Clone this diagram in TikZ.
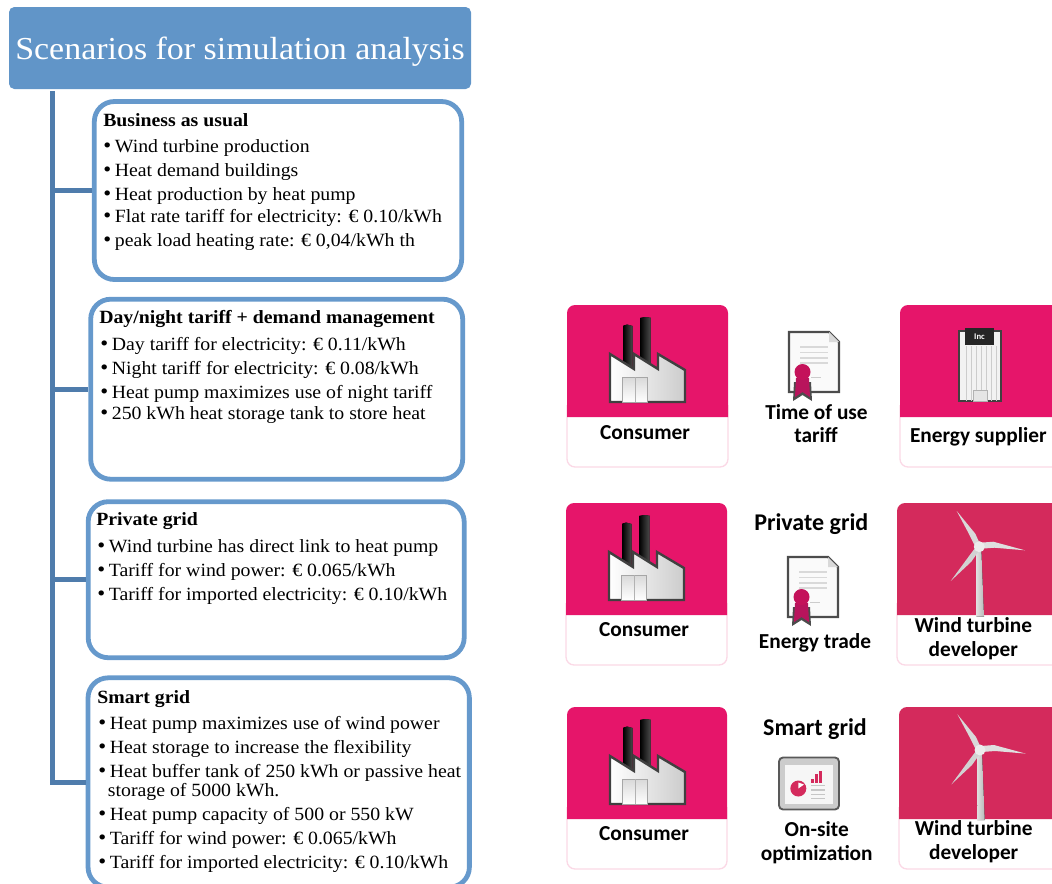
\documentclass[tikz,border=0pt]{standalone}
\usepackage{fontspec}
\setmainfont[FakeStretch=1.06]{Liberation Serif}
\newfontfamily\labelfont{Carlito}
\usetikzlibrary{positioning}
\usetikzlibrary{calc}

\definecolor{titleblue}{HTML}{6195C8}
\definecolor{boxblue}{HTML}{6699CC}
\definecolor{trunkblue}{HTML}{4F7CAC}
\definecolor{cardpink}{HTML}{E6156A}
\definecolor{windpink}{HTML}{D42A5C}
\definecolor{cardedge}{HTML}{FBD9E6}
\definecolor{seal}{HTML}{B8145C}

\newcommand{\bul}{\makebox[8.7pt][l]{\raisebox{-.4pt}{\fontsize{16}{16}\selectfont\textbullet}}}

\tikzset{
  pics/cardbox/.style 2 args={code={
      \draw[cardedge,line width=1pt,fill=white,rounded corners=6pt]
        (0,100) -- (0,162) -- (#1,162) -- (#1,100);
      \fill[#2,rounded corners=6pt] (0,112) [sharp corners] -- (0,112) [rounded corners=6pt] -- (0,0) -- (#1,0) [sharp corners] -- (#1,112) -- cycle;
  }},
  pics/factory/.style={code={
      \fill[left color=black,right color=gray!60!black] (56.3,20.7) -- (60,19.5) -- (65.7,21) -- (65.7,62) -- (56.3,56) -- cycle;
      \fill[left color=black,right color=gray!60!black] (73,13) -- (78,12) -- (83.7,12.7) -- (83.7,62) -- (73,58) -- cycle;
      \draw[black!75,line width=1.8pt,left color=white,right color=gray!40]
        (43,49) -- (67,64) -- (67,49) -- (91,64) -- (91,49) -- (118,65) -- (118,97) -- (43,97) -- cycle;
      \draw[gray!70,line width=.5pt,top color=gray!30,bottom color=white] (55.7,72) rectangle (80.3,97);
      \draw[gray!60,line width=.5pt] (68,72) -- (68,97);
  }},
  pics/certificate/.style={code={
      \draw[black!70,line width=1.8pt,fill=white!96!gray] (0,0) -- (40,0) -- (50,10) -- (50,60) -- (0,60) -- cycle;
      \fill[gray!30] (40,0) -- (50,10) -- (40,10) -- cycle;
      \foreach \ly in {15,20.5,26,31}
        \draw[gray!30,line width=1pt] (11,\ly) -- (39,\ly);
      \draw[gray!40,line width=.6pt] (22,45) -- (32,45);
      \fill[black!70] (5,50) -- (4,69) -- (13.5,63) -- (23,69) -- (22,50) -- cycle;
      \fill[seal] (7,46) -- (6,65) -- (13.5,60) -- (21,65) -- (20,46) -- cycle;
      \fill[cardpink!85!black] (13.5,40) circle (8);
  }},
  pics/supplier/.style={code={
      \draw[black!75,line width=1.8pt,fill=gray!10] (0,3) rectangle (42,73);
      \foreach \lx in {7,12,17,22,27,32,37}
        \draw[gray!40,line width=.7pt] (\lx,18) -- (\lx,73);
      \fill[black!85] (6,0) rectangle (35,17);
      \node[text=white,font=\labelfont\bfseries\fontsize{6.5}{6.5}\selectfont] (inc) at (20.5,9) {Inc};
      \draw[gray!60,fill=gray!20,line width=.6pt] (14,62) rectangle (28,73);
  }},
  pics/turbine/.style={code={
      \fill[left color=gray!25,right color=gray!55] (-3,3) -- (2,3) -- (4.7,70) -- (-2.7,70) -- cycle;
      \fill[gray!30] (-22.6,-35.7) -- (-4,-13) -- (1,-2) -- (-4,0) -- (-11,-14) -- cycle;
      \fill[gray!25] (45.7,3.6) -- (14,-5) -- (1,-4) -- (2,2) -- (15,1) -- cycle;
      \fill[gray!35] (-28.6,34.3) -- (-8,15) -- (-1,5) -- (-4,1) -- (-10,9) -- cycle;
      \fill[gray!15] (0,0) circle (5.5);
  }},
  pics/chartpanel/.style={code={
      \draw[black!65,line width=1.4pt,fill=gray!40,rounded corners=3pt] (0,0) rectangle (60,52);
      \fill[white!93!gray] (6,7) rectangle (54,46);
      \fill[windpink] (19.3,31) circle (8);
      \fill[white] (19.3,31) -- (19.3,25) -- (25,27) -- cycle;
      \foreach \bx/\bh in {32/4,36/9,40/12}
        \fill[windpink] (\bx,25) rectangle ++(3,-\bh);
      \foreach \ly in {28,32.5,37,41}
        \draw[gray!45,line width=.8pt] (32,\ly) -- (46,\ly);
  }}
}

\begin{document}
\begin{tikzpicture}[x=.75pt,y=-.75pt,
    scenbox/.style={
      draw=boxblue,
      line width=3.6pt,
      rounded corners=15pt,
      inner sep=0pt,
      fill=white},
    titlebox/.style={
      fill=titleblue,
      rounded corners=4pt,
      inner sep=0pt,
      text=white,
      minimum width=346.5pt,
      minimum height=61.5pt,
      font=\fontsize{24}{24}\selectfont},
    boxline/.style={
      anchor=base west,
      inner sep=0pt,
      font=\fontsize{14}{14}\selectfont},
    cardlabel/.style={
      anchor=base,
      inner sep=0pt,
      font=\labelfont\bfseries\fontsize{16}{16}\selectfont},
    cardhead/.style={
      cardlabel,
      font=\labelfont\bfseries\fontsize{18}{18}\selectfont},
    trunkline/.style={
      draw=trunkblue,
      line width=4pt}
  ]
  \useasboundingbox (0,0) rectangle (1052,883);

  \node[titlebox,text depth=0pt] (title) at (240,48) {Scenarios for simulation analysis};

  \node[scenbox,minimum width=275.5pt,minimum height=133.5pt] (usual) at (278,190.5) {};
  \node[scenbox,minimum width=279pt,minimum height=135pt] (daynight) at (276.7,389.2) {};
  \node[scenbox,minimum width=282pt,minimum height=117pt] (private) at (276.2,579.7) {};
  \node[scenbox,minimum width=286pt,minimum height=157pt] (smart) at (278.7,782.5) {};

  \coordinate (trunktop) at (52.8,91);
  \foreach \i in {usual,daynight,private,smart}
    \draw[trunkline] (trunktop) |- (\i.west);

  \foreach \nm/\x/\y/\txt in {% name/x/baseline/text
    ua/103/126/{\bfseries Business as usual},
    ub/103/152/{\bul Wind turbine production},
    uc/103/176/{\bul Heat demand buildings},
    ud/103/200/{\bul Heat production by heat pump},
    ue/103/222/{\bul Flat rate tariff for electricity: € 0.10/kWh},
    uf/103/246/{\bul peak load heating rate: € 0,04/kWh th},
    da/99/323/{\bfseries Day/night tariff + demand management},
    db/100/350/{\bul Day tariff for electricity: € 0.11/kWh},
    dc/100/374/{\bul Night tariff for electricity: € 0.08/kWh},
    dd/100/398/{\bul Heat pump maximizes use of night tariff},
    de/100/419/{\bul 250 kWh heat storage tank to store heat},
    pa/96/525/{\bfseries Private grid},
    pb/97/552/{\bul Wind turbine has direct link to heat pump},
    pc/97/576/{\bul Tariff for wind power: € 0.065/kWh},
    pd/97/600/{\bul Tariff for imported electricity: € 0.10/kWh},
    sa/97/703/{\bfseries Smart grid},
    sb/98/729/{\bul Heat pump maximizes use of wind power},
    sc/98/753/{\bul Heat storage to increase the flexibility},
    sd/98/777/{\bul Heat buffer tank of 250 kWh or passive heat},
    se/107.7/796/{storage of 5000 kWh.},
    sf/98/820/{\bul Heat pump capacity of 500 or 550 kW},
    sg/98/844/{\bul Tariff for wind power: € 0.065/kWh},
    sh/98/868/{\bul Tariff for imported electricity: € 0.10/kWh}}
    \node[boxline] (\nm) at (\x,\y) {\txt};

  % cards
  \pic at (567,305) {cardbox={161}{cardpink}};
  \pic at (900,305) {cardbox={170}{cardpink}};
  \pic at (566,503) {cardbox={161}{cardpink}};
  \pic at (897,503) {cardbox={170}{windpink}};
  \pic at (567,707) {cardbox={160}{cardpink}};
  \pic at (899,707) {cardbox={170}{windpink}};

  \pic at (567,305) {factory};
  \pic at (566,503) {factory};
  \pic at (567,707) {factory};
  \pic at (959,328) {supplier};
  \pic at (979.3,546.7) {turbine};
  \pic at (980,750) {turbine};
  \pic at (789,332) {certificate};
  \pic at (788,557) {certificate};
  \pic at (779,757.5) {chartpanel};

  \foreach \nm/\x/\y/\txt in {
    conA/645/439/Consumer,
    timeA/816.5/419/Time of use,
    timeB/816/442.7/tariff,
    suppl/978.3/442.7/Energy supplier,
    conB/644/636.7/Consumer,
    trade/815/648/Energy trade,
    windA/973.3/632.3/Wind turbine,
    windB/973.3/656.3/developer,
    conC/644/840/Consumer,
    siteA/816.7/836.3/On-site,
    siteB/816.7/860/optimization,
    windC/973.7/835.7/Wind turbine,
    windD/973.7/859.3/developer}
    \node[cardlabel] (\nm) at (\x,\y) {\txt};

  \node[cardhead] (privgrid) at (811.3,530) {Private grid};
  \node[cardhead] (smgrid) at (815,735.7) {Smart grid};
\end{tikzpicture}
\end{document}
